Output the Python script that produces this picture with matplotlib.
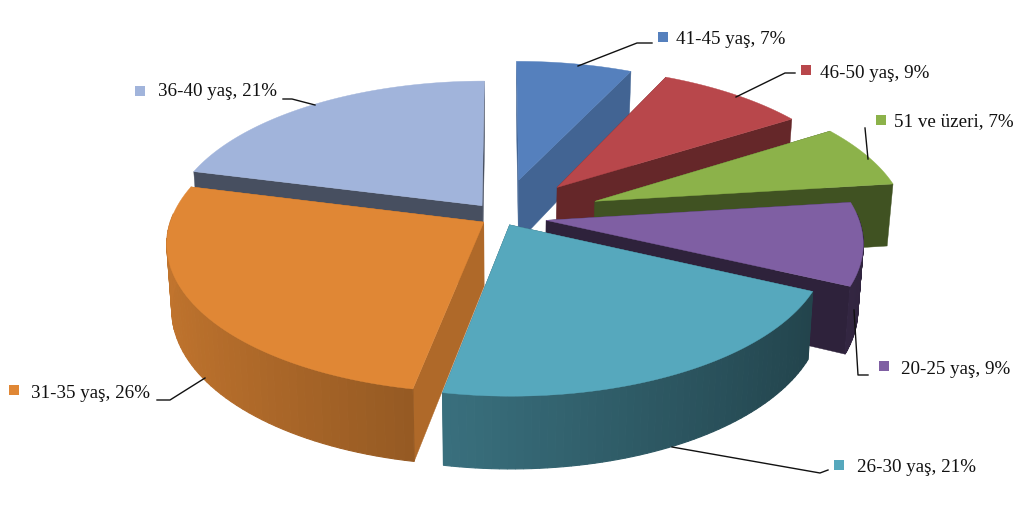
import numpy as np
import matplotlib
matplotlib.use('Agg')
import matplotlib.pyplot as plt
from matplotlib.patches import Polygon, Rectangle

# ---- data (clockwise from 12 o'clock)
labels = ['41-45 yaş, 7%', '46-50 yaş, 9%', '51 ve üzeri, 7%', '20-25 yaş, 9%',
          '26-30 yaş, 21%', '31-35 yaş, 26%', '36-40 yaş, 21%']
values = [7, 9, 7, 9, 21, 26, 21]

# ---- style
colors = ['#5580BD', '#B8474B', '#8CB24A', '#7F5FA3', '#56A8BD', '#E08735', '#A1B4DB']
explode = [0.27, 0.28, 0.325, 0.146, 0.06, 0.065, 0.10]
wall_shade = [0.78, 0.55, 0.46, 0.36, 0.5, 0.78, 0.44]
label_xy = [(676, 39), (820, 73), (894, 122), (901, 370), (857, 468), (31, 393), (158, 92)]
marker_xy = [(663, 37), (806, 70), (881, 120), (884, 366), (839, 465), (14, 390), (140, 91)]
leaders = [[(578, 66), (637, 43), (652, 43)],
           [(736, 97), (785, 73), (795, 73)],
           [(868, 159), (865, 128)],
           [(854, 310), (858, 375), (868, 375)],
           [(672, 447), (820, 473), (828, 470)],
           [(205, 378), (170, 400), (157, 400)],
           [(315, 105), (292, 99), (283, 99)]]

CX, CY, RX, RY, K, DEPTH = 501, 217, 312, 145, 0.14, 64

fig = plt.figure(figsize=(10.24, 5.32), dpi=100, facecolor='white')
ax = fig.add_axes([0, 0, 1, 1])
ax.set_xlim(0, 1024)
ax.set_ylim(532, 0)
ax.axis('off')


def top(u, v):
    s = 1 / (1 + K * v)
    return np.column_stack([CX + RX * u * s, CY - RY * v * s])


def bottom(u, v):
    p = top(u, v)
    p[:, 1] += DEPTH * (1 - 0.13 * v)
    p[:, 0] = CX + (p[:, 0] - CX) * 0.985
    return p


def shade(c, f):
    return tuple(min(1, x * f) for x in matplotlib.colors.to_rgb(c))


total = sum(values)
edges = np.cumsum([0] + values) / total * 2 * np.pi
mids = (edges[:-1] + edges[1:]) / 2
order = np.argsort(-(np.cos(mids) * (1 + np.array(explode))))

for z, i in enumerate(order):
    th = np.linspace(edges[i], edges[i + 1], 60)
    ou, ov = explode[i] * np.sin(mids[i]), explode[i] * np.cos(mids[i])
    u = ou + np.sin(th)
    v = ov + np.cos(th)
    au, av = np.array([ou]), np.array([ov])
    c = colors[i]
    wall = shade(c, wall_shade[i])
    base = 2 + 3 * z
    T, B = top(u, v), bottom(u, v)
    # radial walls
    for a in (0, -1):
        ua, va = np.array([u[a]]), np.array([v[a]])
        poly = np.vstack([top(au, av), top(ua, va), bottom(ua, va), bottom(au, av)])
        ax.add_patch(Polygon(poly, closed=True, fc=wall, ec=wall, lw=0.3, zorder=base))
    # outer wall
    for j in range(len(th) - 1):
        m = (th[j] + th[j + 1]) / 2
        if np.cos(m) > 0.05:
            continue
        col = shade(c, 0.62 - 0.24 * np.sin(m))
        ax.add_patch(Polygon([T[j], T[j + 1], B[j + 1], B[j]], closed=True, fc=col, ec=col, lw=0.8,
                             zorder=base + 1))
    # top surface
    ax.add_patch(Polygon(np.vstack([top(au, av), T]), closed=True, fc=c, ec=c, lw=0.3, zorder=base + 2))

for i in range(len(values)):
    pts = np.array(leaders[i])
    ax.plot(pts[:, 0], pts[:, 1], color='#111111', lw=1.0, zorder=50)
    mx, my = marker_xy[i]
    ax.add_patch(Rectangle((mx - 4.7, my - 4.7), 9.4, 9.4, fc=colors[i], ec='none', zorder=50))
    ax.text(label_xy[i][0], label_xy[i][1], labels[i], family='Liberation Serif', fontsize=13.7,
            color='#111111', va='center', ha='left', zorder=51)

fig.savefig('out.png', dpi=100, facecolor='white')
